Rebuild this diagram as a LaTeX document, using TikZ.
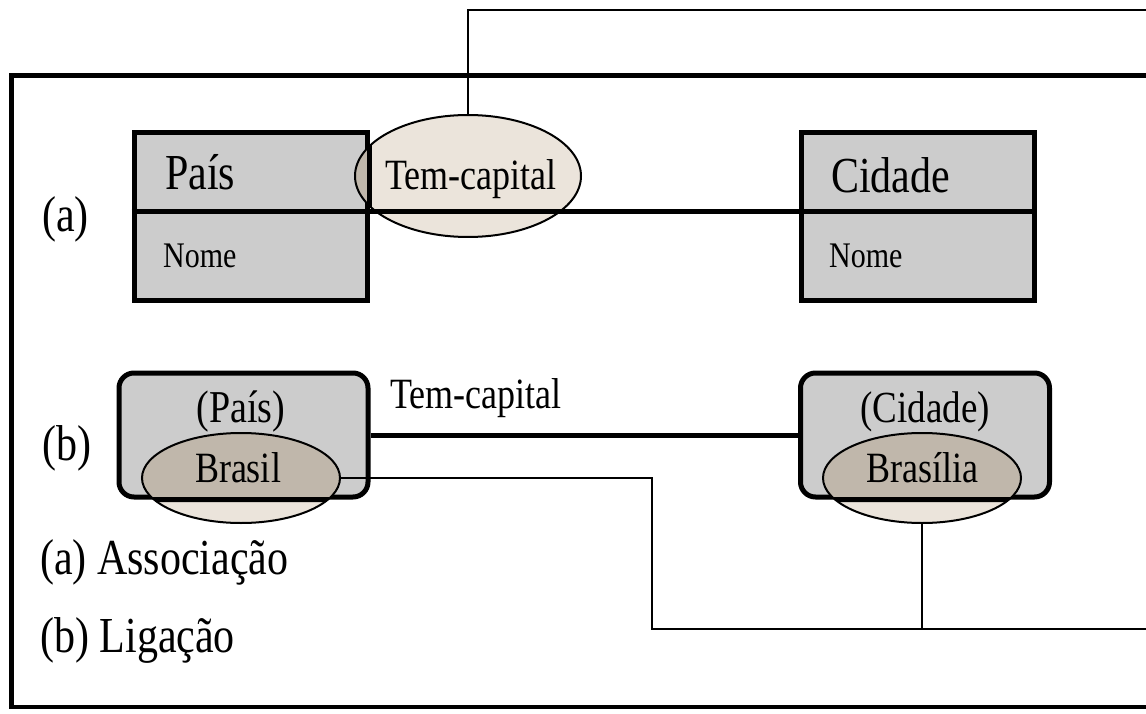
\documentclass[tikz,border=0pt]{standalone}
\usepackage{fontspec}
\setmainfont{Liberation Serif}
\usepackage{graphicx}
\usetikzlibrary{shapes.geometric}
\definecolor{boxgray}{RGB}{204,204,204}
\definecolor{beige}{RGB}{235,228,219}
\definecolor{overlapc}{RGB}{192,183,171}
\newcommand{\tx}[2]{\fontsize{#1}{#1}\selectfont\scalebox{1}[1.2]{#2}}
\begin{document}
\begin{tikzpicture}[x=1pt,y=-1pt,
  classbox/.style={draw=black, fill=boxgray, line width=5pt, minimum width=233pt, minimum height=167pt, inner sep=0pt},
  objbox/.style={draw=black, fill=boxgray, line width=5pt, rounded corners=15pt, minimum width=249pt, minimum height=124pt, inner sep=0pt},
  ovalbig/.style={ellipse, fill=beige, minimum width=226pt, minimum height=122pt, inner sep=0pt},
  ovalsmall/.style={ellipse, fill=beige, minimum width=198pt, minimum height=90pt, inner sep=0pt},
  thinline/.style={line width=2pt},
  thickline/.style={line width=5pt},
  lbl/.style={inner sep=0pt, anchor=base west},
  lblc/.style={inner sep=0pt, anchor=base},
]
\useasboundingbox (0,0) rectangle (1146,714);
% frame
\draw[line width=5pt] (1146,76) -- (11,76) -- (11,707);
\draw[line width=3.5pt] (9,707) -- (1146,707);
% class boxes
\coordinate (divA) at (0,212);
\node[classbox] (paisA) at (250.5,216.5) {};
\node[classbox] (cidA) at (918,216.5) {};
\draw[thickline] (paisA.west |- divA) -- (paisA.east |- divA);
\draw[thickline] (cidA.west |- divA) -- (cidA.east |- divA);
% object boxes
\node[objbox] (paisB) at (243.5,435) {};
\node[objbox] (cidB) at (925,435) {};
% ellipses (fills)
\node[ovalbig] (temE) at (468,176) {};
\node[ovalsmall] (brasilE) at (241,478) {};
\node[ovalsmall] (brasiliaE) at (922,478) {};
% overlaps
\begin{scope}
\clip (temE.center) ellipse [x radius=113, y radius=61];
\fill[overlapc] (paisA.north west) rectangle (paisA.south east);
\draw[thickline] (paisA.north west) rectangle (paisA.south east);
\end{scope}
\begin{scope}
\clip (brasilE.center) ellipse [x radius=99, y radius=45];
\fill[overlapc] (paisB.north west) rectangle (paisB.south east);
\draw[thickline, rounded corners=15pt] (paisB.north west) rectangle (paisB.south east);
\end{scope}
\begin{scope}
\clip (brasiliaE.center) ellipse [x radius=99, y radius=45];
\fill[overlapc] (cidB.north west) rectangle (cidB.south east);
\draw[thickline, rounded corners=15pt] (cidB.north west) rectangle (cidB.south east);
\end{scope}
% ellipse outlines
\draw[thinline] (temE.center) ellipse [x radius=113, y radius=61];
\draw[thinline] (brasilE.center) ellipse [x radius=99, y radius=45];
\draw[thinline] (brasiliaE.center) ellipse [x radius=99, y radius=45];
% connectors
\coordinate (topEnd) at (1146,10);
\coordinate (bend) at (652,629);
\coordinate (rEnd) at (1146,629);
\draw[thinline] (temE.north) |- (topEnd);
\draw[thickline] (paisA.east |- divA) -- (cidA.west |- divA);
\draw[thickline] (paisB.east) -- (cidB.west);
\draw[thinline] (brasilE.east) -| (bend) -- (rEnd);
\draw[thinline] (brasiliaE.south) -- (brasiliaE.south |- rEnd);
% texts
\node[lbl] (tPais) at (165,190) {\tx{42}{País}};
\node[lbl] (tNome1) at (163,267) {\tx{30}{Nome}};
\node[lbl] (tCid) at (831,193) {\tx{42}{Cidade}};
\node[lbl] (tNome2) at (829,267) {\tx{30}{Nome}};
\node[lbl] (tTemA) at (385,190) {\tx{36}{Tem-capital}};
\node[lbl] (ta) at (42,232) {\tx{42}{(a)}};
\node[lbl] (tb) at (42,460) {\tx{42}{(b)}};
\node[lblc] (tPaisB) at (241,422) {\tx{38}{(País)}};
\node[lblc] (tBrasil) at (238,482) {\tx{36}{Brasil}};
\node[lbl] (tTemB) at (390,408) {\tx{36}{Tem-capital}};
\node[lblc] (tCidB) at (925,422) {\tx{37}{(Cidade)}};
\node[lblc] (tBrasilia) at (922,482) {\tx{36}{Brasília}};
\node[lbl] (tAssoc) at (40,574) {\tx{42}{(a) Associação}};
\node[lbl] (tLig) at (40,652) {\tx{42}{(b) Ligação}};
\end{tikzpicture}
\end{document}
